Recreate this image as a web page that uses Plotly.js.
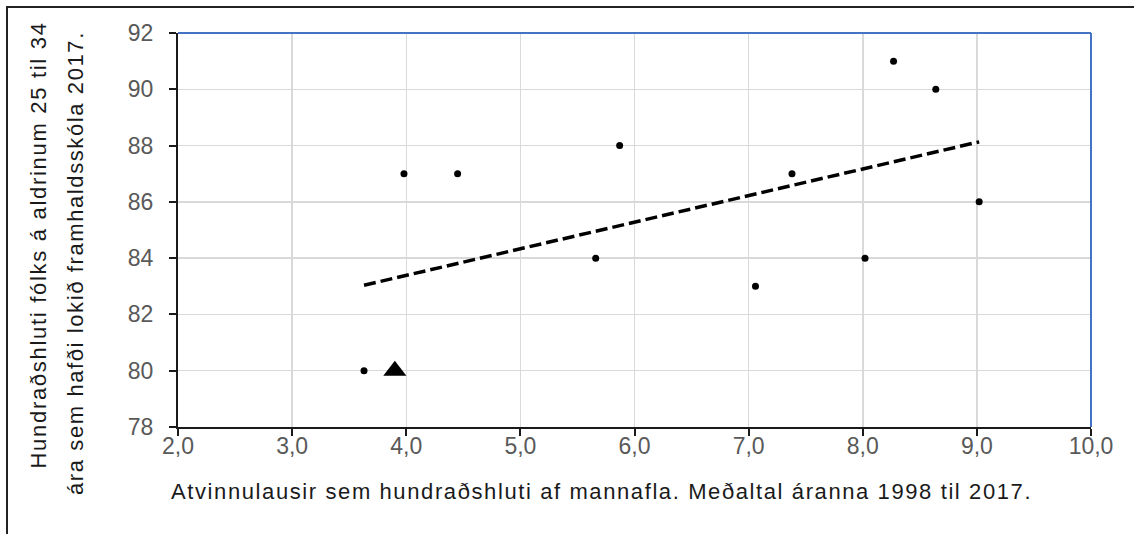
<!DOCTYPE html>
<html>
<head>
<meta charset="utf-8">
<script src="https://cdn.plot.ly/plotly-3.0.1.min.js"></script>
<style>
  html, body { margin: 0; padding: 0; background: #ffffff; }
  #wrap { position: relative; width: 1134px; height: 534px; overflow: hidden; }
  #chart { position: absolute; left: 0; top: 0; width: 1134px; height: 534px; }
  #frame { position: absolute; left: 6px; top: 6px; width: 1140px; height: 540px;
           border-top: 2px solid #222; border-left: 2px solid #222; pointer-events: none; }
  #chart .annotation[data-index="0"] .annotation-text { letter-spacing: 1.6px; }
  #chart .annotation[data-index="1"] .annotation-text { letter-spacing: 1.7px; }
  #chart .annotation[data-index="2"] .annotation-text { letter-spacing: 1.6px; }
</style>
</head>
<body>
<div id="wrap">
  <div id="chart"></div>
  <div id="frame"></div>
</div>
<script>
// Countries (dots): unemployment % of labour force (avg 1998-2017) vs % aged 25-34 with upper secondary education 2017
const dotX = [3.63, 3.98, 4.45, 5.66, 5.87, 7.06, 7.38, 8.02, 8.27, 8.64, 9.02];
const dotY = [80, 87, 87, 84, 88, 83, 87, 84, 91, 90, 86];
// Highlighted country (triangle)
const triX = [3.90];
const triY = [80];

const xTitle = 'Atvinnulausir sem hundraðshluti af mannafla. Meðaltal áranna 1998 til 2017.';
const yTitle1 = 'Hundraðshluti fólks á aldrinum 25 til 34';
const yTitle2 = 'ára sem hafði lokið framhaldsskóla 2017.';

// Linear trendline (least squares over all points, as in the spreadsheet)
const allX = dotX.concat(triX), allY = dotY.concat(triY);
const n = allX.length;
const mx = allX.reduce((a, b) => a + b, 0) / n;
const my = allY.reduce((a, b) => a + b, 0) / n;
let sxy = 0, sxx = 0;
for (let i = 0; i < n; i++) { sxy += (allX[i] - mx) * (allY[i] - my); sxx += (allX[i] - mx) ** 2; }
const slope = sxy / sxx, icpt = my - slope * mx;
const tX = [Math.min(...allX), Math.max(...allX)];
const tY = tX.map(v => icpt + slope * v);

const FONT = 'Liberation Sans, Arial, sans-serif';

const traces = [
  { x: tX, y: tY, mode: 'lines', type: 'scatter', hoverinfo: 'skip',
    line: { color: '#000000', width: 3.5, dash: '12px,5px' } },
  { x: dotX, y: dotY, mode: 'markers', type: 'scatter',
    marker: { color: '#000000', size: 7, symbol: 'circle' } },
  { x: triX, y: triY, mode: 'markers', type: 'scatter',
    marker: { color: '#000000', size: 20, symbol: 'triangle-up' } }
];

const L = 178, R = 43, T = 33, B = 107;
const W = 1134, H = 534;
const pw = W - L - R, ph = H - T - B;
const px2x = p => (p - L) / pw;
const py2y = p => (H - B - p) / ph;

const layout = {
  width: W, height: H,
  margin: { l: L, r: R, t: T, b: B },
  paper_bgcolor: '#ffffff', plot_bgcolor: '#ffffff',
  showlegend: false,
  separators: ',.',
  font: { family: FONT, color: '#595959' },
  xaxis: {
    range: [2, 10], dtick: 1, tick0: 2, tickformat: '.1f',
    showgrid: true, gridcolor: '#d9d9d9', gridwidth: 1.5,
    showline: true, linecolor: '#1a1a1a', linewidth: 2,
    ticks: 'outside', ticklen: 7, tickwidth: 2, tickcolor: '#1a1a1a',
    ticklabelstandoff: -10,
    tickfont: { family: FONT, size: 23, color: '#595959' },
    zeroline: false, fixedrange: true
  },
  yaxis: {
    range: [78, 92], dtick: 2, tick0: 78, tickformat: 'd',
    showgrid: true, gridcolor: '#d9d9d9', gridwidth: 1.5,
    showline: true, linecolor: '#1a1a1a', linewidth: 2,
    ticks: 'outside', ticklen: 7, tickwidth: 2, tickcolor: '#1a1a1a',
    ticklabelstandoff: 11,
    tickfont: { family: FONT, size: 23, color: '#595959' },
    zeroline: false, fixedrange: true
  },
  shapes: [
    { type: 'line', xref: 'paper', yref: 'paper', x0: 0, x1: 1, y0: 1, y1: 1,
      line: { color: '#4472C4', width: 2 } },
    { type: 'line', xref: 'paper', yref: 'paper', x0: 1, x1: 1, y0: 0, y1: 1,
      line: { color: '#4472C4', width: 2 } }
  ],
  annotations: [
    { text: xTitle, xref: 'paper', yref: 'paper', x: px2x(601), y: py2y(491),
      xanchor: 'center', yanchor: 'middle', showarrow: false,
      font: { family: FONT, size: 22, color: '#1a1a1a' } },
    { text: yTitle1, xref: 'paper', yref: 'paper', x: px2x(38), y: py2y(437),
      xanchor: 'center', yanchor: 'bottom', textangle: -90, showarrow: false,
      font: { family: FONT, size: 22, color: '#1a1a1a' } },
    { text: yTitle2, xref: 'paper', yref: 'paper', x: px2x(75), y: py2y(465),
      xanchor: 'center', yanchor: 'bottom', textangle: -90, showarrow: false,
      font: { family: FONT, size: 22, color: '#1a1a1a' } }
  ]
};

Plotly.newPlot('chart', traces, layout, { displayModeBar: false, staticPlot: true });
</script>
</body>
</html>
